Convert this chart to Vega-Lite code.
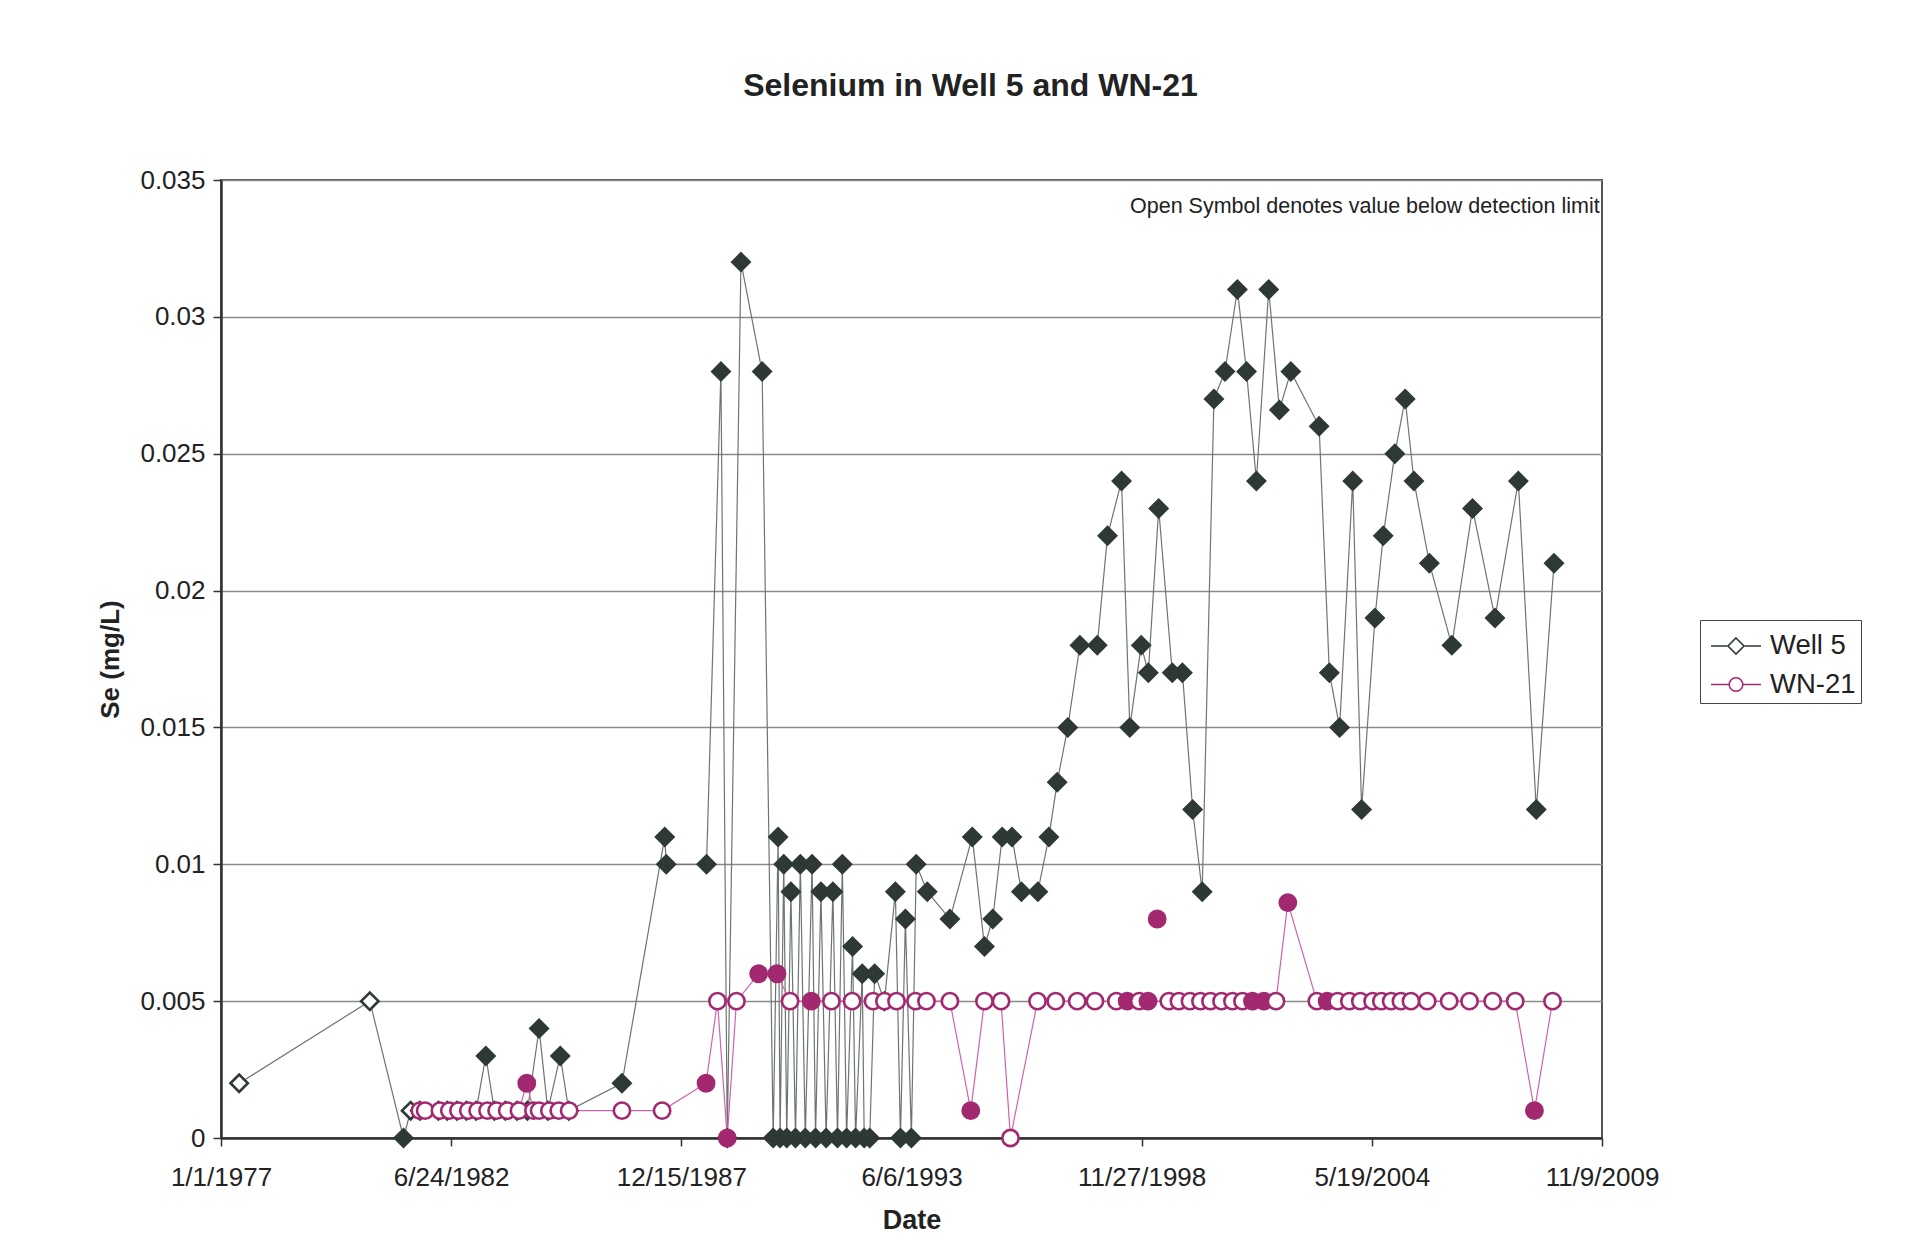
{
  "$schema": "https://vega.github.io/schema/vega-lite/v6.json",
  "width": 1381,
  "height": 958,
  "autosize": "none",
  "padding": {"left": 221, "top": 180, "right": 324, "bottom": 111},
  "background": "white",
  "config": {
    "font": "Liberation Sans",
    "view": {"stroke": "#555555", "strokeWidth": 2}
  },
  "title": {
    "text": "Selenium in Well 5 and WN-21",
    "font": "Liberation Sans",
    "fontSize": 32,
    "fontWeight": "bold",
    "color": "#222222",
    "anchor": "middle",
    "dx": 59,
    "offset": 64
  },
  "data": {
    "values": [
      {"date": "1977-06-08", "se": 0.002, "series": "Well 5", "status": "below"},
      {"date": "1980-07-17", "se": 0.005, "series": "Well 5", "status": "below"},
      {"date": "1981-05-06", "se": 0.0, "series": "Well 5", "status": "detected"},
      {"date": "1981-07-07", "se": 0.001, "series": "Well 5", "status": "below"},
      {"date": "1981-09-25", "se": 0.001, "series": "Well 5", "status": "below"},
      {"date": "1982-03-05", "se": 0.001, "series": "Well 5", "status": "below"},
      {"date": "1982-05-20", "se": 0.001, "series": "Well 5", "status": "below"},
      {"date": "1982-08-13", "se": 0.001, "series": "Well 5", "status": "below"},
      {"date": "1982-11-03", "se": 0.001, "series": "Well 5", "status": "below"},
      {"date": "1983-01-27", "se": 0.001, "series": "Well 5", "status": "below"},
      {"date": "1983-04-21", "se": 0.003, "series": "Well 5", "status": "detected"},
      {"date": "1983-07-04", "se": 0.001, "series": "Well 5", "status": "below"},
      {"date": "1983-10-07", "se": 0.001, "series": "Well 5", "status": "below"},
      {"date": "1984-01-17", "se": 0.001, "series": "Well 5", "status": "below"},
      {"date": "1984-04-17", "se": 0.001, "series": "Well 5", "status": "below"},
      {"date": "1984-07-27", "se": 0.004, "series": "Well 5", "status": "detected"},
      {"date": "1984-10-11", "se": 0.001, "series": "Well 5", "status": "below"},
      {"date": "1985-01-27", "se": 0.003, "series": "Well 5", "status": "detected"},
      {"date": "1985-04-11", "se": 0.001, "series": "Well 5", "status": "below"},
      {"date": "1986-07-17", "se": 0.002, "series": "Well 5", "status": "detected"},
      {"date": "1987-07-24", "se": 0.011, "series": "Well 5", "status": "detected"},
      {"date": "1987-08-06", "se": 0.010, "series": "Well 5", "status": "detected"},
      {"date": "1988-07-21", "se": 0.010, "series": "Well 5", "status": "detected"},
      {"date": "1988-11-23", "se": 0.028, "series": "Well 5", "status": "detected"},
      {"date": "1989-01-17", "se": 0.0, "series": "Well 5", "status": "detected"},
      {"date": "1989-05-16", "se": 0.032, "series": "Well 5", "status": "detected"},
      {"date": "1989-11-16", "se": 0.028, "series": "Well 5", "status": "detected"},
      {"date": "1990-02-20", "se": 0.0, "series": "Well 5", "status": "detected"},
      {"date": "1990-04-04", "se": 0.011, "series": "Well 5", "status": "detected"},
      {"date": "1990-04-21", "se": 0.0, "series": "Well 5", "status": "detected"},
      {"date": "1990-05-23", "se": 0.010, "series": "Well 5", "status": "detected"},
      {"date": "1990-06-18", "se": 0.0, "series": "Well 5", "status": "detected"},
      {"date": "1990-07-24", "se": 0.009, "series": "Well 5", "status": "detected"},
      {"date": "1990-09-02", "se": 0.0, "series": "Well 5", "status": "detected"},
      {"date": "1990-10-14", "se": 0.010, "series": "Well 5", "status": "detected"},
      {"date": "1990-11-26", "se": 0.0, "series": "Well 5", "status": "detected"},
      {"date": "1991-01-24", "se": 0.010, "series": "Well 5", "status": "detected"},
      {"date": "1991-02-23", "se": 0.0, "series": "Well 5", "status": "detected"},
      {"date": "1991-04-11", "se": 0.009, "series": "Well 5", "status": "detected"},
      {"date": "1991-05-26", "se": 0.0, "series": "Well 5", "status": "detected"},
      {"date": "1991-07-24", "se": 0.009, "series": "Well 5", "status": "detected"},
      {"date": "1991-09-02", "se": 0.0, "series": "Well 5", "status": "detected"},
      {"date": "1991-10-14", "se": 0.010, "series": "Well 5", "status": "detected"},
      {"date": "1991-11-20", "se": 0.0, "series": "Well 5", "status": "detected"},
      {"date": "1992-01-11", "se": 0.007, "series": "Well 5", "status": "detected"},
      {"date": "1992-02-06", "se": 0.0, "series": "Well 5", "status": "detected"},
      {"date": "1992-04-04", "se": 0.006, "series": "Well 5", "status": "detected"},
      {"date": "1992-04-21", "se": 0.0, "series": "Well 5", "status": "detected"},
      {"date": "1992-06-08", "se": 0.0, "series": "Well 5", "status": "detected"},
      {"date": "1992-07-21", "se": 0.006, "series": "Well 5", "status": "detected"},
      {"date": "1992-10-14", "se": 0.005, "series": "Well 5", "status": "detected"},
      {"date": "1993-01-17", "se": 0.009, "series": "Well 5", "status": "detected"},
      {"date": "1993-03-02", "se": 0.0, "series": "Well 5", "status": "detected"},
      {"date": "1993-04-14", "se": 0.008, "series": "Well 5", "status": "detected"},
      {"date": "1993-06-05", "se": 0.0, "series": "Well 5", "status": "detected"},
      {"date": "1993-07-17", "se": 0.010, "series": "Well 5", "status": "detected"},
      {"date": "1993-10-21", "se": 0.009, "series": "Well 5", "status": "detected"},
      {"date": "1994-05-06", "se": 0.008, "series": "Well 5", "status": "detected"},
      {"date": "1994-11-16", "se": 0.011, "series": "Well 5", "status": "detected"},
      {"date": "1995-03-02", "se": 0.007, "series": "Well 5", "status": "detected"},
      {"date": "1995-05-13", "se": 0.008, "series": "Well 5", "status": "detected"},
      {"date": "1995-08-03", "se": 0.011, "series": "Well 5", "status": "detected"},
      {"date": "1995-10-27", "se": 0.011, "series": "Well 5", "status": "detected"},
      {"date": "1996-01-17", "se": 0.009, "series": "Well 5", "status": "detected"},
      {"date": "1996-06-08", "se": 0.009, "series": "Well 5", "status": "detected"},
      {"date": "1996-09-12", "se": 0.011, "series": "Well 5", "status": "detected"},
      {"date": "1996-11-23", "se": 0.013, "series": "Well 5", "status": "detected"},
      {"date": "1997-02-23", "se": 0.015, "series": "Well 5", "status": "detected"},
      {"date": "1997-06-08", "se": 0.018, "series": "Well 5", "status": "detected"},
      {"date": "1997-11-06", "se": 0.018, "series": "Well 5", "status": "detected"},
      {"date": "1998-02-03", "se": 0.022, "series": "Well 5", "status": "detected"},
      {"date": "1998-06-05", "se": 0.024, "series": "Well 5", "status": "detected"},
      {"date": "1998-08-16", "se": 0.015, "series": "Well 5", "status": "detected"},
      {"date": "1998-11-23", "se": 0.018, "series": "Well 5", "status": "detected"},
      {"date": "1999-01-24", "se": 0.017, "series": "Well 5", "status": "detected"},
      {"date": "1999-04-24", "se": 0.023, "series": "Well 5", "status": "detected"},
      {"date": "1999-08-20", "se": 0.017, "series": "Well 5", "status": "detected"},
      {"date": "1999-11-16", "se": 0.017, "series": "Well 5", "status": "detected"},
      {"date": "2000-02-13", "se": 0.012, "series": "Well 5", "status": "detected"},
      {"date": "2000-05-06", "se": 0.009, "series": "Well 5", "status": "detected"},
      {"date": "2000-08-16", "se": 0.027, "series": "Well 5", "status": "detected"},
      {"date": "2000-11-20", "se": 0.028, "series": "Well 5", "status": "detected"},
      {"date": "2001-03-08", "se": 0.031, "series": "Well 5", "status": "detected"},
      {"date": "2001-05-26", "se": 0.028, "series": "Well 5", "status": "detected"},
      {"date": "2001-08-20", "se": 0.024, "series": "Well 5", "status": "detected"},
      {"date": "2001-12-05", "se": 0.031, "series": "Well 5", "status": "detected"},
      {"date": "2002-03-08", "se": 0.0266, "series": "Well 5", "status": "detected"},
      {"date": "2002-06-15", "se": 0.028, "series": "Well 5", "status": "detected"},
      {"date": "2003-02-16", "se": 0.026, "series": "Well 5", "status": "detected"},
      {"date": "2003-05-16", "se": 0.017, "series": "Well 5", "status": "detected"},
      {"date": "2003-08-13", "se": 0.015, "series": "Well 5", "status": "detected"},
      {"date": "2003-12-05", "se": 0.024, "series": "Well 5", "status": "detected"},
      {"date": "2004-02-20", "se": 0.012, "series": "Well 5", "status": "detected"},
      {"date": "2004-06-15", "se": 0.019, "series": "Well 5", "status": "detected"},
      {"date": "2004-08-26", "se": 0.022, "series": "Well 5", "status": "detected"},
      {"date": "2004-12-05", "se": 0.025, "series": "Well 5", "status": "detected"},
      {"date": "2005-03-05", "se": 0.027, "series": "Well 5", "status": "detected"},
      {"date": "2005-05-20", "se": 0.024, "series": "Well 5", "status": "detected"},
      {"date": "2005-10-01", "se": 0.021, "series": "Well 5", "status": "detected"},
      {"date": "2006-04-14", "se": 0.018, "series": "Well 5", "status": "detected"},
      {"date": "2006-10-11", "se": 0.023, "series": "Well 5", "status": "detected"},
      {"date": "2007-04-24", "se": 0.019, "series": "Well 5", "status": "detected"},
      {"date": "2007-11-13", "se": 0.024, "series": "Well 5", "status": "detected"},
      {"date": "2008-04-17", "se": 0.012, "series": "Well 5", "status": "detected"},
      {"date": "2008-09-18", "se": 0.021, "series": "Well 5", "status": "detected"},

      {"date": "1981-09-25", "se": 0.001, "series": "WN-21", "status": "below"},
      {"date": "1981-11-10", "se": 0.001, "series": "WN-21", "status": "below"},
      {"date": "1982-03-18", "se": 0.001, "series": "WN-21", "status": "below"},
      {"date": "1982-06-08", "se": 0.001, "series": "WN-21", "status": "below"},
      {"date": "1982-08-26", "se": 0.001, "series": "WN-21", "status": "below"},
      {"date": "1982-11-20", "se": 0.001, "series": "WN-21", "status": "below"},
      {"date": "1983-02-09", "se": 0.001, "series": "WN-21", "status": "below"},
      {"date": "1983-05-06", "se": 0.001, "series": "WN-21", "status": "below"},
      {"date": "1983-07-24", "se": 0.001, "series": "WN-21", "status": "below"},
      {"date": "1983-10-24", "se": 0.001, "series": "WN-21", "status": "below"},
      {"date": "1984-02-03", "se": 0.001, "series": "WN-21", "status": "below"},
      {"date": "1984-04-11", "se": 0.002, "series": "WN-21", "status": "detected"},
      {"date": "1984-06-08", "se": 0.001, "series": "WN-21", "status": "below"},
      {"date": "1984-07-27", "se": 0.001, "series": "WN-21", "status": "below"},
      {"date": "1984-10-24", "se": 0.001, "series": "WN-21", "status": "below"},
      {"date": "1985-01-14", "se": 0.001, "series": "WN-21", "status": "below"},
      {"date": "1985-04-14", "se": 0.001, "series": "WN-21", "status": "below"},
      {"date": "1986-07-17", "se": 0.001, "series": "WN-21", "status": "below"},
      {"date": "1987-07-01", "se": 0.001, "series": "WN-21", "status": "below"},
      {"date": "1988-07-17", "se": 0.002, "series": "WN-21", "status": "detected"},
      {"date": "1988-10-24", "se": 0.005, "series": "WN-21", "status": "below"},
      {"date": "1989-01-17", "se": 0.0, "series": "WN-21", "status": "detected"},
      {"date": "1989-04-07", "se": 0.005, "series": "WN-21", "status": "below"},
      {"date": "1989-10-17", "se": 0.006, "series": "WN-21", "status": "detected"},
      {"date": "1990-03-25", "se": 0.006, "series": "WN-21", "status": "detected"},
      {"date": "1990-07-17", "se": 0.005, "series": "WN-21", "status": "below"},
      {"date": "1991-01-17", "se": 0.005, "series": "WN-21", "status": "detected"},
      {"date": "1991-07-11", "se": 0.005, "series": "WN-21", "status": "below"},
      {"date": "1992-01-07", "se": 0.005, "series": "WN-21", "status": "below"},
      {"date": "1992-07-07", "se": 0.005, "series": "WN-21", "status": "below"},
      {"date": "1992-10-14", "se": 0.005, "series": "WN-21", "status": "below"},
      {"date": "1993-01-27", "se": 0.005, "series": "WN-21", "status": "below"},
      {"date": "1993-07-11", "se": 0.005, "series": "WN-21", "status": "below"},
      {"date": "1993-10-14", "se": 0.005, "series": "WN-21", "status": "below"},
      {"date": "1994-05-06", "se": 0.005, "series": "WN-21", "status": "below"},
      {"date": "1994-11-03", "se": 0.001, "series": "WN-21", "status": "detected"},
      {"date": "1995-03-02", "se": 0.005, "series": "WN-21", "status": "below"},
      {"date": "1995-07-24", "se": 0.005, "series": "WN-21", "status": "below"},
      {"date": "1995-10-14", "se": 0.0, "series": "WN-21", "status": "below"},
      {"date": "1996-06-05", "se": 0.005, "series": "WN-21", "status": "below"},
      {"date": "1996-11-10", "se": 0.005, "series": "WN-21", "status": "below"},
      {"date": "1997-05-16", "se": 0.005, "series": "WN-21", "status": "below"},
      {"date": "1997-10-17", "se": 0.005, "series": "WN-21", "status": "below"},
      {"date": "1998-04-21", "se": 0.005, "series": "WN-21", "status": "below"},
      {"date": "1998-07-24", "se": 0.005, "series": "WN-21", "status": "detected"},
      {"date": "1998-11-06", "se": 0.005, "series": "WN-21", "status": "below"},
      {"date": "1999-01-21", "se": 0.005, "series": "WN-21", "status": "detected"},
      {"date": "1999-04-11", "se": 0.008, "series": "WN-21", "status": "detected", "isolated": true},
      {"date": "1999-07-21", "se": 0.005, "series": "WN-21", "status": "below"},
      {"date": "1999-10-17", "se": 0.005, "series": "WN-21", "status": "below"},
      {"date": "2000-01-21", "se": 0.005, "series": "WN-21", "status": "below"},
      {"date": "2000-04-21", "se": 0.005, "series": "WN-21", "status": "below"},
      {"date": "2000-07-17", "se": 0.005, "series": "WN-21", "status": "below"},
      {"date": "2000-10-21", "se": 0.005, "series": "WN-21", "status": "below"},
      {"date": "2001-01-24", "se": 0.005, "series": "WN-21", "status": "below"},
      {"date": "2001-04-21", "se": 0.005, "series": "WN-21", "status": "below"},
      {"date": "2001-07-17", "se": 0.005, "series": "WN-21", "status": "detected"},
      {"date": "2001-10-24", "se": 0.005, "series": "WN-21", "status": "detected"},
      {"date": "2002-02-06", "se": 0.005, "series": "WN-21", "status": "below"},
      {"date": "2002-05-20", "se": 0.0086, "series": "WN-21", "status": "detected"},
      {"date": "2003-01-27", "se": 0.005, "series": "WN-21", "status": "below"},
      {"date": "2003-04-27", "se": 0.005, "series": "WN-21", "status": "detected"},
      {"date": "2003-07-27", "se": 0.005, "series": "WN-21", "status": "below"},
      {"date": "2003-11-06", "se": 0.005, "series": "WN-21", "status": "below"},
      {"date": "2004-02-09", "se": 0.005, "series": "WN-21", "status": "below"},
      {"date": "2004-05-26", "se": 0.005, "series": "WN-21", "status": "below"},
      {"date": "2004-08-10", "se": 0.005, "series": "WN-21", "status": "below"},
      {"date": "2004-11-03", "se": 0.005, "series": "WN-21", "status": "below"},
      {"date": "2005-01-27", "se": 0.005, "series": "WN-21", "status": "below"},
      {"date": "2005-04-24", "se": 0.005, "series": "WN-21", "status": "below"},
      {"date": "2005-09-12", "se": 0.005, "series": "WN-21", "status": "below"},
      {"date": "2006-03-22", "se": 0.005, "series": "WN-21", "status": "below"},
      {"date": "2006-09-15", "se": 0.005, "series": "WN-21", "status": "below"},
      {"date": "2007-04-04", "se": 0.005, "series": "WN-21", "status": "below"},
      {"date": "2007-10-17", "se": 0.005, "series": "WN-21", "status": "below"},
      {"date": "2008-04-01", "se": 0.001, "series": "WN-21", "status": "detected"},
      {"date": "2008-09-05", "se": 0.005, "series": "WN-21", "status": "below"}
    ]
  },
  "encoding": {
    "x": {
      "field": "date",
      "type": "temporal",
      "scale": {
        "type": "utc",
        "domain": [
          {"year": 1977, "month": 1, "date": 1, "utc": true},
          {"year": 2009, "month": 11, "date": 9, "utc": true}
        ]
      },
      "axis": {
        "title": "Date",
        "titleFont": "Liberation Sans",
        "titleFontSize": 27,
        "titleFontWeight": "bold",
        "titleColor": "#222222",
        "titlePadding": 17,
        "values": [
          {"year": 1977, "month": 1, "date": 1, "utc": true},
          {"year": 1982, "month": 6, "date": 24, "utc": true},
          {"year": 1987, "month": 12, "date": 15, "utc": true},
          {"year": 1993, "month": 6, "date": 6, "utc": true},
          {"year": 1998, "month": 11, "date": 27, "utc": true},
          {"year": 2004, "month": 5, "date": 19, "utc": true},
          {"year": 2009, "month": 11, "date": 9, "utc": true}
        ],
        "format": "%-m/%-d/%Y",
        "labelFont": "Liberation Sans",
        "labelFontSize": 26,
        "labelColor": "#222222",
        "labelPadding": 18,
        "labelOverlap": false,
        "labelFlush": false,
        "grid": false,
        "tickSize": 8,
        "tickColor": "#333333",
        "tickWidth": 1.5,
        "domainColor": "#333333",
        "domainWidth": 2.5
      }
    },
    "y": {
      "field": "se",
      "type": "quantitative",
      "scale": {"domain": [0, 0.035], "nice": false, "zero": true},
      "axis": {
        "title": "Se (mg/L)",
        "titleFont": "Liberation Sans",
        "titleFontSize": 26,
        "titleFontWeight": "bold",
        "titleColor": "#222222",
        "titlePadding": 16,
        "values": [0, 0.005, 0.01, 0.015, 0.02, 0.025, 0.03, 0.035],
        "labelExpr": "'' + datum.value",
        "labelFont": "Liberation Sans",
        "labelFontSize": 26,
        "labelColor": "#222222",
        "labelPadding": 8,
        "grid": true,
        "gridColor": "#8a8a8a",
        "gridWidth": 1.3,
        "tickSize": 8,
        "tickColor": "#333333",
        "tickWidth": 1.5,
        "domainColor": "#333333",
        "domainWidth": 2.5
      }
    }
  },
  "layer": [
    {
      "transform": [{"filter": "datum.isolated !== true"}],
      "mark": {"type": "line", "strokeWidth": 1.2, "clip": true},
      "encoding": {
        "detail": {"field": "series", "type": "nominal"},
        "stroke": {
          "condition": {"test": "datum.series === 'Well 5'", "value": "#6d7572"},
          "value": "#d062aa"
        }
      }
    },
    {
      "mark": {"type": "point", "strokeWidth": 2.6, "opacity": 1},
      "encoding": {
        "shape": {
          "condition": {"test": "datum.series === 'Well 5'", "value": "diamond"},
          "value": "circle"
        },
        "size": {
          "condition": {"test": "datum.series === 'Well 5'", "value": 300},
          "value": 265
        },
        "fill": {
          "condition": [
            {"test": "datum.status === 'below'", "value": "#ffffff"},
            {"test": "datum.series === 'Well 5'", "value": "#2e3935"}
          ],
          "value": "#a2286f"
        },
        "stroke": {
          "condition": {"test": "datum.series === 'Well 5'", "value": "#2e3935"},
          "value": "#a2286f"
        }
      }
    },
    {
      "data": {"values": []},
      "mark": {"type": "point", "filled": false, "fill": "#ffffff", "strokeWidth": 1.6, "size": 1600, "opacity": 1},
      "encoding": {
        "shape": {
          "field": "series",
          "type": "nominal",
          "scale": {
            "domain": ["Well 5", "WN-21"],
            "range": [
              "M-1.25,0L-0.4,0M0.4,0L1.25,0M0,-0.4L0.4,0L0,0.4L-0.4,0Z",
              "M-1.25,0L-0.34,0M0.34,0L1.25,0M-0.34,0A0.34,0.34,0,1,0,0.34,0A0.34,0.34,0,1,0,-0.34,0Z"
            ]
          },
          "legend": {
            "title": null,
            "orient": "none",
            "legendX": 1479,
            "legendY": 440,
            "labelFont": "Liberation Sans",
            "labelFontSize": 27.5,
            "labelColor": "#222222",
            "labelOffset": 13,
            "symbolOffset": 10,
            "symbolSize": 1600,
            "symbolStrokeWidth": 1.6,
            "symbolFillColor": "#ffffff",
            "strokeColor": "#444444",
            "padding": 5,
            "rowPadding": 3.5
          }
        },
        "stroke": {
          "field": "series",
          "type": "nominal",
          "scale": {"domain": ["Well 5", "WN-21"], "range": ["#2e3935", "#a2286f"]},
          "legend": {
            "title": null,
            "orient": "none",
            "legendX": 1479,
            "legendY": 440,
            "labelFont": "Liberation Sans",
            "labelFontSize": 27.5,
            "labelColor": "#222222",
            "labelOffset": 13,
            "symbolOffset": 10,
            "symbolSize": 1600,
            "symbolStrokeWidth": 1.6,
            "symbolFillColor": "#ffffff",
            "strokeColor": "#444444",
            "padding": 5,
            "rowPadding": 3.5
          }
        }
      }
    },
    {
      "data": {"values": [{"note": "Open Symbol denotes value below detection limit", "date": "2009-10-20", "se": 0.0340}]},
      "mark": {"type": "text", "align": "right", "baseline": "middle", "font": "Liberation Sans", "fontSize": 21.5, "fill": "#222222"},
      "encoding": {
        "text": {"field": "note", "type": "nominal"}
      }
    }
  ]
}
